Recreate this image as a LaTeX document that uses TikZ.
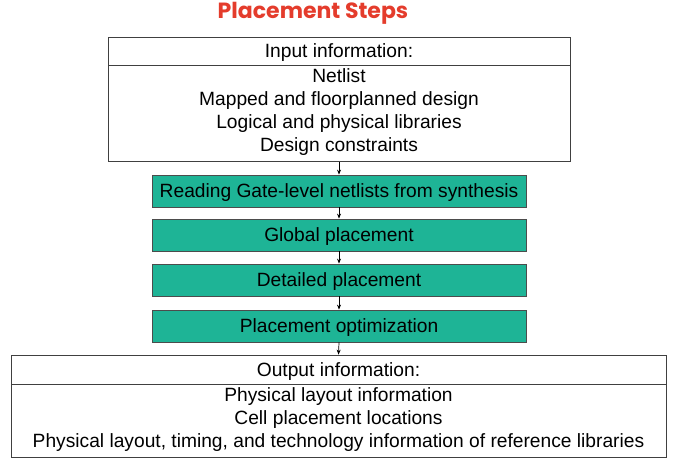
\documentclass[tikz,border=0pt]{standalone}
\usepackage{fontspec}
\setmainfont{Liberation Sans}
\newfontfamily\titlefont{Poppins}
\usetikzlibrary{positioning,arrows.meta}
\definecolor{stepgreen}{RGB}{30,180,150}
\definecolor{titlered}{RGB}{228,60,44}

\begin{document}
\begin{tikzpicture}[x=1pt, y=-1pt,
	infobox/.style={draw=black!75, line width=0.8pt, inner sep=0pt, align=center,
		font=\fontsize{19.2}{23}\selectfont},
	infohead/.style={infobox, text depth=0pt},
	infobody/.style={infobox, text depth=8pt},
	stepbox/.style={draw=black!70, line width=0.8pt, fill=stepgreen, inner sep=0pt, text depth=0pt,
		minimum width=374pt, minimum height=32pt, font=\fontsize{19.2}{23}\selectfont},
	flow/.style={line width=0.7pt, -{Stealth[length=5pt, width=4pt]}}]
			%%%%% START %%%%%
			
			\useasboundingbox (0, 0) rectangle (676, 463);
			
			\node[font=\titlefont\bfseries\fontsize{22}{26}\selectfont, text=titlered] (title) at (313, 13) {Placement Steps};
			
			\node[infohead, minimum width=462pt, minimum height=28pt] (inHead) at (339, 51) {Input information:};
			\node[infobody, minimum width=462pt, minimum height=96pt, below=0pt of inHead] (inBody) {Netlist\\Mapped and floorplanned design\\Logical and physical libraries\\Design constraints};
			
			\node[stepbox] (readNet) at (339, 191) {Reading Gate-level netlists from synthesis};
			\node[stepbox] (globalPl) at (339, 235) {Global placement};
			\node[stepbox] (detailPl) at (339, 280) {Detailed placement};
			\node[stepbox] (optPl) at (339, 326) {Placement optimization};
			
			\node[infohead, minimum width=655pt, minimum height=29pt] (outHead) at (338.5, 369.5) {Output information:};
			\node[infobody, minimum width=655pt, minimum height=73pt, below=0pt of outHead] (outBody) {Physical layout information\\Cell placement locations\\Physical layout, timing, and technology information of reference libraries};
			
			\draw[flow] (inBody.south) -- (readNet.north);
			\draw[flow] (readNet.south) -- (globalPl.north);
			\draw[flow] (globalPl.south) -- (detailPl.north);
			\draw[flow] (detailPl.south) -- (optPl.north);
			\draw[flow] (optPl.south) -- (outHead.north);
			
			%%%%% END %%%%%
\end{tikzpicture}
\end{document}
